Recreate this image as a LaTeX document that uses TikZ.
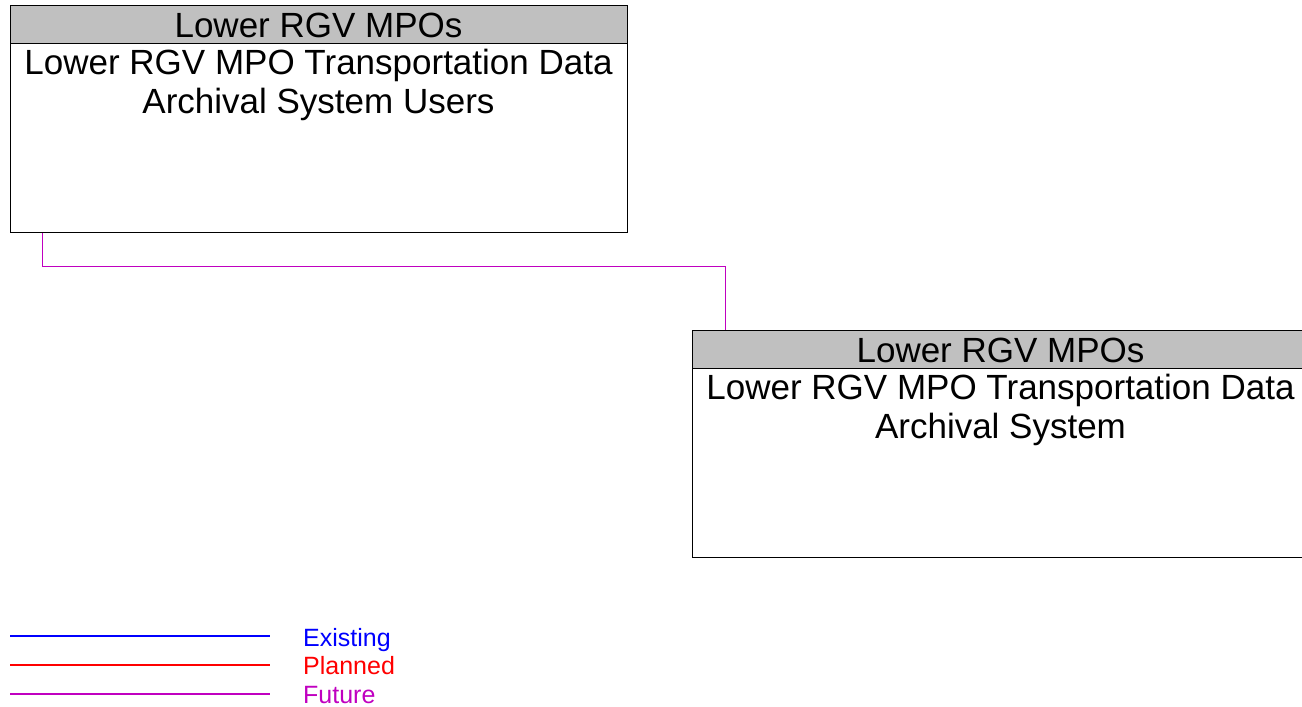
\documentclass[tikz,border=0pt]{standalone}
\usepackage{fontspec}
\setmainfont{Liberation Sans}
\definecolor{hdrgray}{RGB}{192,192,192}
\definecolor{futcol}{RGB}{192,0,192}
\definecolor{existcol}{RGB}{0,0,255}
\definecolor{plancol}{RGB}{255,0,0}
\definecolor{boxline}{RGB}{64,64,64}
\begin{document}
\begin{tikzpicture}[x=1pt,y=-1pt,
  hdrbox/.style={draw=black, line width=1pt, fill=hdrgray, minimum width=617pt, minimum height=38pt, inner sep=0pt, anchor=north west},
  bodybox/.style={draw=black, line width=1pt, fill=white, minimum width=617pt, minimum height=189pt, inner sep=0pt, anchor=north west},
  bigtext/.style={font=\fontsize{35}{39}\selectfont, inner sep=0pt, align=center, text=black},
  legtext/.style={font=\fontsize{25}{29}\selectfont, inner sep=0pt, anchor=base west},
  legline/.style={line width=1.2pt},
  futconn/.style={draw=futcol, line width=1pt},
]
\useasboundingbox (0,0) rectangle (1302,707);
% legend lines
\coordinate (l1a) at (10,636); \coordinate (l1b) at (270,636);
\coordinate (l2a) at (10,665); \coordinate (l2b) at (270,665);
\coordinate (l3a) at (10,694); \coordinate (l3b) at (270,694);
\draw[legline, draw=existcol] (l1a) -- (l1b);
\draw[legline, draw=plancol] (l2a) -- (l2b);
\draw[legline, draw=futcol] (l3a) -- (l3b);
% box 1
\node[bodybox] (b1) at (10,43) {};
\node[hdrbox] (h1) at (10,5) {};
% box 2
\node[bodybox] (b2) at (692,368) {};
\node[hdrbox] (h2) at (692,330) {};
% connector
\draw[futconn] ([xshift=32pt]b1.south west) -- ++(0,33) -| ([xshift=33pt]h2.north west);
% texts
\node[bigtext, anchor=base] (h1t) at (318.5,37) {Lower RGV MPOs};
\node[bigtext, anchor=north] (b1t) at (318.5,49) {Lower RGV MPO Transportation Data\\Archival System Users};
\node[bigtext, anchor=base] (h2t) at (1000.5,362) {Lower RGV MPOs};
\node[bigtext, anchor=north] (b2t) at (1000.5,374) {Lower RGV MPO Transportation Data\\Archival System};
\node[legtext, text=existcol] (le) at (303,646) {Existing};
\node[legtext, text=plancol] (lp) at (303,674) {Planned};
\node[legtext, text=futcol] (lf) at (303,703) {Future};
\end{tikzpicture}
\end{document}
